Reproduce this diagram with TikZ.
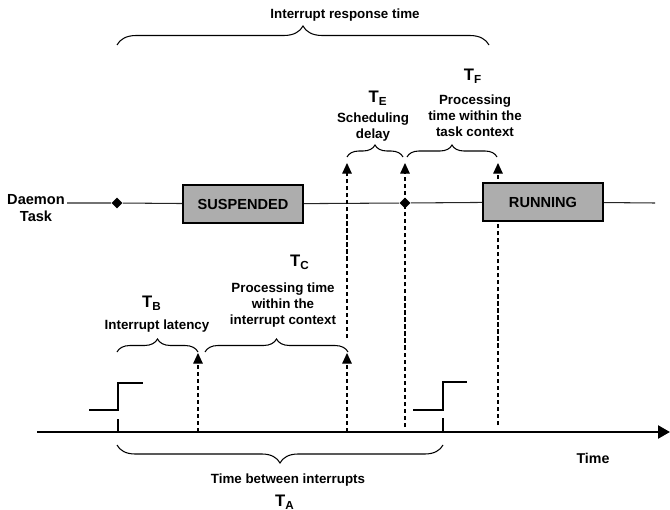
\documentclass[tikz,border=0pt]{standalone}
\usepackage{fontspec}
\setmainfont{Liberation Sans}
\usetikzlibrary{arrows.meta,shapes.geometric,decorations.pathreplacing,backgrounds}

\begin{document}
\begin{tikzpicture}[x=0.02cm,y=-0.02cm,>={Triangle[length=6pt,width=5.4pt]},font=\fontsize{7.6}{9.2}\selectfont\bfseries]
\tikzstyle{lab}=[align=center,inner sep=1pt]
\tikzstyle{tname}=[font=\fontsize{9.5}{11}\selectfont\bfseries,inner sep=1pt]
\tikzstyle{bx}=[draw,line width=1.4pt,fill=black!32,minimum width=2.4cm,minimum height=0.76cm,font=\fontsize{8.3}{10}\selectfont\bfseries]
\tikzstyle{dia}=[diamond,fill=black,inner sep=0pt,minimum width=0.22cm,minimum height=0.22cm]
\tikzstyle{da}=[->,dash pattern=on 2.4pt off 1.6pt,line width=0.6pt]
\tikzstyle{br}=[decorate,line width=0.6pt]
\tikzstyle{sig}=[line width=1pt]
\useasboundingbox (0,0) rectangle (670,510);
\node (irt) at (345,15) {Interrupt response time};
\draw[br,decoration={brace,amplitude=0.38cm}] (117,45) -- (489,45);
\node[tname] (tf) at (473,76) {T\textsubscript{F}}; \node[lab] (tfd) at (475,116) {Processing\\time within the\\task context};
\node[tname] (te) at (378,98) {T\textsubscript{E}}; \node[lab] (ted) at (373,127) {Scheduling\\delay};
\draw[br,decoration={brace,amplitude=0.24cm}] (347,157) -- (403,157); \draw[br,decoration={brace,amplitude=0.24cm}] (407,157) -- (497,157);
\node[lab,font=\fontsize{8.3}{10}\selectfont\bfseries] (dt) at (36,208) {Daemon\\Task};
\node[bx] (susp) at (243,204) {SUSPENDED}; \node[bx] (run) at (543,202) {RUNNING};
\node[dia] (d1) at (117,203) {}; \node[dia] (d2) at (405,203) {};
\node[tname] (tc) at (300,262) {T\textsubscript{C}}; \node[lab] (tcd) at (283,305) {Processing time\\within the\\interrupt context};
\node[tname] (tb) at (152,303) {T\textsubscript{B}}; \node[lab] (tbd) at (157,326) {Interrupt latency};
\draw[br,decoration={brace,amplitude=0.26cm}] (117,352) -- (198,352); \draw[br,decoration={brace,amplitude=0.26cm}] (205,352) -- (348,352);
\draw[sig] (89,410) -- (118,410) -- (118,383) -- (143,383); \draw[line width=0.6pt] (118,419) -- (118,433);
\draw[sig] (413,410) -- (443,410) -- (443,382) -- (467,382); \draw[line width=0.6pt] (443,418) -- (443,433);
\coordinate (t0) at (37,432); \coordinate (t1) at (670,432);
\draw[line width=1.2pt,-{Triangle[length=6.8pt,width=7.4pt]}] (t0) -- (t1);
\node (time) at (593,458) {\fontsize{8.1}{10}\selectfont Time};
\draw[br,decoration={brace,amplitude=0.36cm}] (443,445) -- (117,445);
\node[lab] (tbi) at (288,480) {Time between interrupts}; \node[tname] (ta) at (285,502) {T\textsubscript{A}};
\coordinate (l0) at (67,203); \coordinate (l1) at (655,203);
\coordinate (b0) at (198,432); \coordinate (b1) at (198,353);
\coordinate (c0) at (347,432); \coordinate (c1) at (347,353); \coordinate (c2) at (347,338); \coordinate (c3) at (347,163);
\coordinate (e0) at (405,427); \coordinate (e1) at (405,163);
\coordinate (f0) at (498,425); \coordinate (f1) at (498,163);
\begin{scope}[on background layer]
\draw[line width=0.6pt,black!85] (l0) -- (d1) -- (susp) -- (d2) -- (run) -- (l1);
\draw[da] (b0) -- (b1); \draw[da] (c0) -- (c1); \draw[da] (c2) -- (c3);
\draw[da] (e0) -- (e1); \draw[da] (f0) -- (f1);
\end{scope}
\end{tikzpicture}
\end{document}
